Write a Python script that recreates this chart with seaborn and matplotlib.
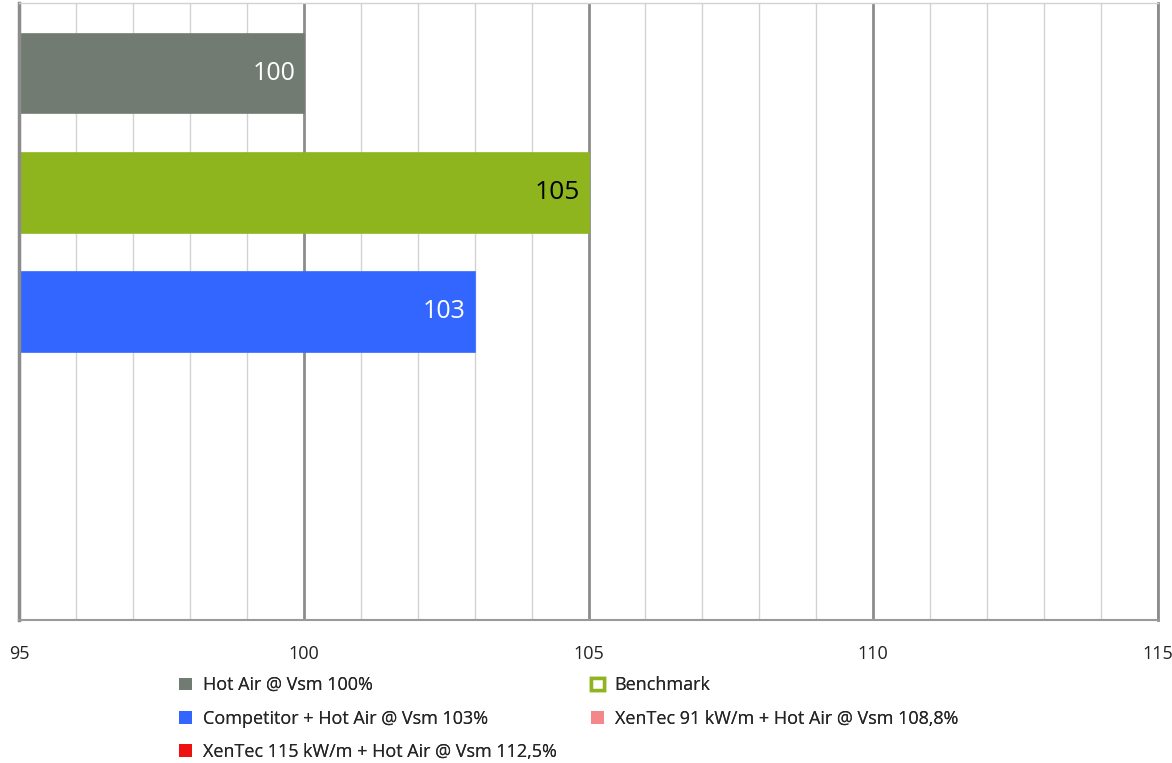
import numpy as np
import pandas as pd
import matplotlib
matplotlib.use("Agg")
import matplotlib.pyplot as plt
from matplotlib.patches import Patch
from matplotlib.ticker import MultipleLocator
import seaborn as sns

# data
categories = [
    "Hot Air @ Vsm 100%",
    "Benchmark",
    "Competitor + Hot Air @ Vsm 103%",
    "XenTec 91 kW/m + Hot Air @ Vsm 108,8%",
    "XenTec 115 kW/m + Hot Air @ Vsm 112,5%",
]
values = [100, 105, 103, 95, 95]
bar_labels = ["100", "105", "103", "", ""]
colors = ["#727B72", "#8FB51E", "#3366FF", "#F4878A", "#EE1111"]
label_colors = ["white", "black", "white", "white", "white"]

sns.set_style("white")
plt.rcParams["font.family"] = ["Open Sans", "DejaVu Sans"]

df = pd.DataFrame({"category": categories, "value": values})

fig = plt.figure(figsize=(11.72, 7.63), dpi=100)
ax = fig.add_axes([19 / 1172, 143 / 763, 1139 / 1172, 617 / 763])

sns.barplot(data=df, y="category", x="value", hue="category", order=categories,
            hue_order=categories, palette=colors, width=0.67, ax=ax,
            legend=False, saturation=1)
for p in ax.patches:
    p.set_edgecolor(p.get_facecolor())
    p.set_linewidth(1.2)

ax.set_xlim(95, 115)
ax.set_ylim(4.583, -0.591)
ax.xaxis.set_major_locator(MultipleLocator(5))
ax.xaxis.set_minor_locator(MultipleLocator(1))
ax.grid(which="minor", axis="x", color="#D2D2D2", lw=1)
ax.grid(which="major", axis="x", color="#8C8C8C", lw=2)
ax.set_axisbelow(True)

ax.set_yticks([])
ax.set_xlabel("")
ax.set_ylabel("")
ax.tick_params(axis="x", which="major", length=7, width=1.5, color="#8C8C8C",
               pad=11, labelsize=13, labelcolor="#222222")
ax.tick_params(axis="x", which="minor", length=0)

ax.spines["left"].set_color("#8C8C8C")
ax.spines["left"].set_linewidth(2.5)
ax.spines["bottom"].set_color("#9A9A9A")
ax.spines["bottom"].set_linewidth(1.5)
ax.spines["top"].set_color("#D2D2D2")
ax.spines["top"].set_linewidth(1)
ax.spines["right"].set_color("#8C8C8C")
ax.spines["right"].set_linewidth(2)

# value labels inside bar ends
for i, (v, lab) in enumerate(zip(values, bar_labels)):
    if lab:
        ax.text(v - 0.15, i, lab, ha="right", va="center",
                color=label_colors[i], fontsize=19 if i == 1 else 18)

# legend, two columns placed separately
def handle(i):
    if categories[i] == "Benchmark":
        return Patch(facecolor="white", edgecolor=colors[i], linewidth=2.5)
    return Patch(facecolor=colors[i], edgecolor="none")

left_idx = [0, 2, 4]
right_idx = [1, 3]
for idx, x0 in [(left_idx, 172 / 1172), (right_idx, 584 / 1172)]:
    leg = fig.legend([handle(i) for i in idx], [categories[i] for i in idx],
                     loc="upper left", bbox_to_anchor=(x0, 94 / 763),
                     frameon=False, fontsize=13, handlelength=0.7,
                     handleheight=0.7, handletextpad=0.6, labelspacing=0.85,
                     borderaxespad=0)
    fig.add_artist(leg)

fig.savefig("out.png", dpi=100)
